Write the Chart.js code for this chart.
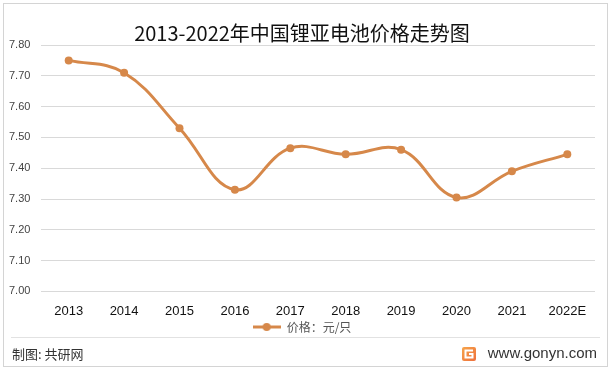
<!DOCTYPE html>
<html>
<head>
<meta charset="utf-8">
<script src="https://cdn.jsdelivr.net/npm/chart.js@4.4.1/dist/chart.umd.min.js"></script>
<style>
    html, body { margin: 0; padding: 0; background: #fff; }
    #wrap { position: relative; width: 612px; height: 372px; }
</style>
</head>
<body>
<div id="wrap"><canvas id="priceChart" width="612" height="372"></canvas></div>
<script>
const years = ['2013', '2014', '2015', '2016', '2017', '2018', '2019', '2020', '2021', '2022E'];
const prices = [7.75, 7.71, 7.53, 7.33, 7.465, 7.445, 7.46, 7.305, 7.39, 7.445];
const yTicks = [7.0, 7.1, 7.2, 7.3, 7.4, 7.5, 7.6, 7.7, 7.8];
const seriesName = '价格：元/只';
const lineColor = '#D6884A';

// legend marker: a short line with a dot in the middle (Excel style)
const marker = document.createElement('canvas');
marker.width = 28;
marker.height = 10;
(function () {
    const m = marker.getContext('2d');
    m.strokeStyle = lineColor;
    m.lineWidth = 3;
    m.beginPath();
    m.moveTo(0, 5);
    m.lineTo(28, 5);
    m.stroke();
    m.fillStyle = lineColor;
    m.beginPath();
    m.arc(14, 5, 4, 0, Math.PI * 2);
    m.fill();
})();

// frame, footer line and source texts
const frameFooter = {
    id: 'frameFooter',
    afterDraw(chart) {
        const ctx = chart.ctx;
        ctx.save();
        ctx.strokeStyle = '#d4d4d4';
        ctx.lineWidth = 1;
        ctx.strokeRect(3.5, 3.5, 604, 363);

        ctx.strokeStyle = '#e2e2e2';
        ctx.beginPath();
        ctx.moveTo(11, 337.5);
        ctx.lineTo(600, 337.5);
        ctx.stroke();

        ctx.fillStyle = '#333';
        ctx.textBaseline = 'middle';
        ctx.font = '13px "Noto Sans CJK SC", sans-serif';
        ctx.textAlign = 'left';
        ctx.fillText('制图: 共研网', 12, 354);

        ctx.font = '15px "Liberation Sans", sans-serif';
        ctx.textAlign = 'right';
        ctx.fillText('www.gonyn.com', 597, 354);

        // small logo
        const g = ctx.createLinearGradient(462, 347, 476, 361);
        g.addColorStop(0, '#F6A54A');
        g.addColorStop(1, '#EE6F3C');
        ctx.fillStyle = g;
        ctx.beginPath();
        ctx.roundRect(462, 347, 14, 14, 2);
        ctx.fill();
        ctx.strokeStyle = '#fff';
        ctx.lineWidth = 2;
        ctx.beginPath();
        ctx.moveTo(473, 350.5);
        ctx.lineTo(465.5, 350.5);
        ctx.lineTo(465.5, 357.5);
        ctx.lineTo(472.5, 357.5);
        ctx.lineTo(472.5, 354);
        ctx.lineTo(469, 354);
        ctx.stroke();
        ctx.restore();
    }
};

const ctx = document.getElementById('priceChart').getContext('2d');
const priceChart = new Chart(ctx, {
    type: 'line',
    data: {
        labels: years,
        datasets: [{
            label: seriesName,
            data: prices,
            borderColor: lineColor,
            backgroundColor: lineColor,
            borderWidth: 3,
            pointRadius: 4,
            pointHoverRadius: 4,
            pointBackgroundColor: lineColor,
            pointBorderWidth: 0,
            tension: 0.4,
            fill: false
        }]
    },
    options: {
        responsive: false,
        animation: false,
        devicePixelRatio: 1,
        layout: {
            padding: { top: 21, left: 9, right: 17, bottom: 29 }
        },
        scales: {
            x: {
                offset: true,
                afterFit(axis) { axis.height -= 12; },
                grid: { display: false, drawTicks: false },
                border: { display: false },
                ticks: {
                    padding: 12,
                    color: '#111',
                    font: { family: '"Liberation Sans", sans-serif', size: 13 }
                }
            },
            y: {
                min: 7.0,
                max: 7.8,
                afterFit(axis) { axis.width = 32; },
                afterBuildTicks(axis) { axis.ticks = yTicks.map(v => ({ value: v })); },
                grid: { color: '#d9d9d9', lineWidth: 1, drawTicks: false },
                border: { display: false },
                ticks: {
                    crossAlign: 'far',
                    padding: 0,
                    color: '#444',
                    font: { family: '"Liberation Sans", sans-serif', size: 11 },
                    callback: v => Number(v).toFixed(2)
                }
            }
        },
        plugins: {
            title: {
                display: true,
                text: '2013-2022年中国锂亚电池价格走势图',
                color: '#111',
                font: { family: '"Noto Sans CJK SC", sans-serif', size: 20, weight: 'normal' },
                padding: { top: 0, bottom: 0 }
            },
            legend: {
                display: true,
                position: 'bottom',
                labels: {
                    usePointStyle: true,
                    pointStyleWidth: 28,
                    padding: 2,
                    color: '#555',
                    font: { family: '"Noto Sans CJK SC", sans-serif', size: 12 },
                    generateLabels(chart) {
                        return [{
                            text: seriesName,
                            pointStyle: marker,
                            fillStyle: lineColor,
                            strokeStyle: lineColor,
                            lineWidth: 0,
                            fontColor: '#555',
                            datasetIndex: 0
                        }];
                    }
                }
            },
            tooltip: { enabled: false }
        }
    },
    plugins: [frameFooter]
});
</script>
</body>
</html>
